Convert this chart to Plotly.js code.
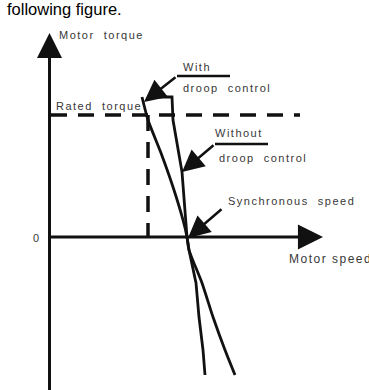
<!DOCTYPE html>
<html>
<head>
<meta charset="utf-8">
<script src="https://cdn.plot.ly/plotly-3.0.1.min.js"></script>
<style>
body { margin: 0; }
.annotation-text { letter-spacing: 1.5px; }
</style>
</head>
<body>
<div id="chart"></div>
<script>
// torque / speed curves, origin at the axes crossing
var withSpeed = [91, 97, 110, 122, 132, 136, 138, 151, 162, 174, 184];
var withTorque = [140, 117, 84, 50, 17, 0, -13, -46, -80, -113, -138];

var withoutSpeed = [96, 121, 122, 131, 136, 138, 145, 148, 152, 154];
var withoutTorque = [140, 140, 117, 65, 0, -13, -46, -80, -113, -138];

var ratedTorque = 122;
var ratedSpeed = 97;
var syncSpeed = 136;

var lw = 2.8;
var txt = { family: "Liberation Sans, Arial", size: 11, color: "#383838" };

var curveWith = {
	mode: "lines",
	x: withSpeed,
	y: withTorque,
	line: { color: "#111", width: lw, shape: "spline", smoothing: 0.6 }
};

var curveWithout = {
	mode: "lines",
	x: withoutSpeed,
	y: withoutTorque,
	line: { color: "#111", width: lw }
};

var ratedH = {
	mode: "lines",
	x: [0, 249],
	y: [ratedTorque, ratedTorque],
	line: { color: "#111", width: 3.5, dash: "16px,11px" }
};

var ratedV = {
	mode: "lines",
	x: [ratedSpeed, ratedSpeed],
	y: [ratedTorque, 0],
	line: { color: "#111", width: 3.5, dash: "16px,11px" }
};

// leader lines under the labels
var leadWith = {
	mode: "lines",
	x: [126, 179],
	y: [161, 161],
	line: { color: "#111", width: 2.5 }
};

var leadWithout = {
	mode: "lines",
	x: [164, 217],
	y: [93, 93],
	line: { color: "#111", width: 2.5 }
};

function label(t, x, y, anchor, size) {
	var f = Object.assign({}, txt);
	if (size) f.size = size;
	return {
		text: t, x: x, y: y, xref: "x", yref: "y",
		xanchor: anchor || "left", yanchor: "middle",
		showarrow: false, borderpad: 0, font: f
	};
}

function arrow(x, y, ax, ay, w, s) {
	return {
		text: "", x: x, y: y, ax: ax, ay: ay,
		xref: "x", yref: "y", axref: "x", ayref: "y",
		showarrow: true, arrowhead: 2, arrowwidth: w, arrowsize: s,
		arrowcolor: "#111", standoff: 0
	};
}

var layout = {
	width: 369,
	height: 390,
	margin: { l: 0, r: 0, t: 0, b: 0 },
	paper_bgcolor: "#fff",
	plot_bgcolor: "#fff",
	showlegend: false,
	title: {
		text: "following figure.",
		x: 7 / 369, xanchor: "left", xref: "paper",
		y: 0.99, yanchor: "top", yref: "container",
		pad: { t: 0, l: 0 },
		font: { family: "Liberation Sans, Arial", size: 16.5, color: "#000" }
	},
	xaxis: { range: [-51, 318], visible: false, fixedrange: true },
	yaxis: { range: [-153, 237], visible: false, fixedrange: true },
	annotations: [
		// axes
		arrow(-1.5, 204, -1.5, -160, 3, 1.67),
		arrow(272, 0, -1.5, 0, 3, 1.67),
		// pointers
		arrow(93, 135, 126, 161, 2.5, 1.75),
		arrow(131, 65, 164, 93, 2.5, 1.75),
		arrow(syncSpeed + 1, -1, 172, 29, 2.5, 1.75),
		label("Motor\u00a0\u00a0torque", 7, 202),
		label("Rated\u00a0\u00a0torque", 4, 131.5),
		label("With", 131, 170),
		label("droop\u00a0\u00a0control", 131, 149.5),
		label("Without", 163, 104),
		label("droop\u00a0\u00a0control", 167, 79.5),
		label("Synchronous\u00a0\u00a0speed", 176, 36),
		label("Motor\u00a0speed", 237, -21.5, "left", 12),
		label("0", -14.5, -1, "center")
	]
};

Plotly.newPlot("chart", [ratedH, ratedV, leadWith, leadWithout, curveWith, curveWithout], layout, {
	staticPlot: true,
	displayModeBar: false
});
</script>
</body>
</html>
